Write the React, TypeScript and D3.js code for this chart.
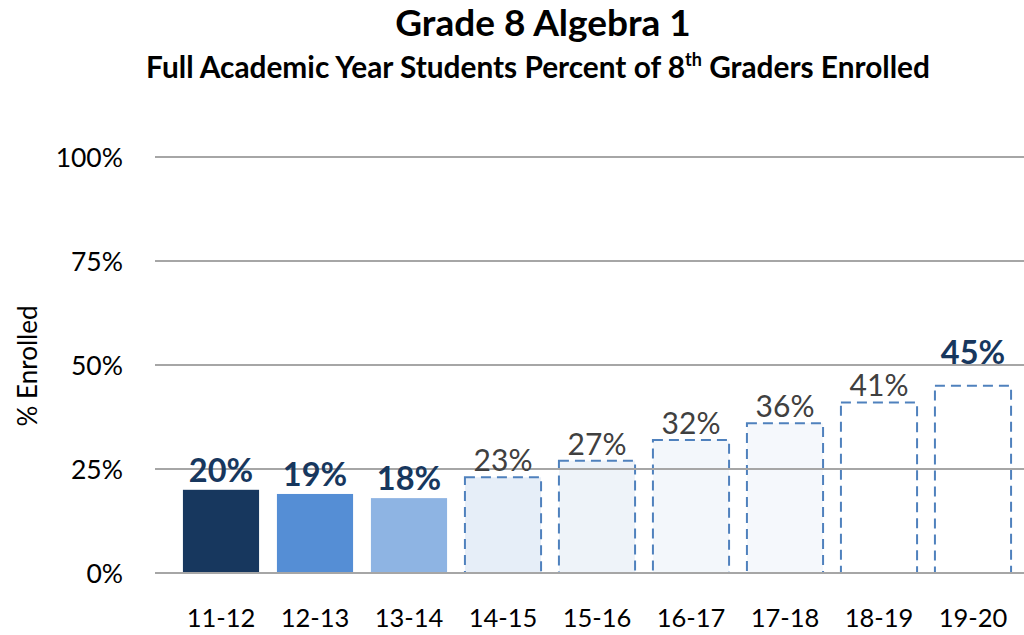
import React from 'react';
import * as d3 from 'd3';

const years = ['11-12', '12-13', '13-14', '14-15', '15-16', '16-17', '17-18', '18-19', '19-20'];
const enrolled = [20, 19, 18, 23, 27, 32, 36, 41, 45];
// actual results vs. projected targets
const actual = [true, true, true, false, false, false, false, false, false];
const highlighted = [true, true, true, false, false, false, false, false, true];
const yTicks = [0, 25, 50, 75, 100];

const barFills = ['#17375e', '#558ed5', '#8eb4e3', '#e6eef8', '#eef3f9', '#f3f7fb', '#f5f8fc', '#ffffff', '#ffffff'];

const W = 1024, H = 635;
const FONT = 'Lato, "Open Sans", sans-serif';

const App = () => {
  const x = d3.scaleBand<string>().domain(years).range([174, 1020]).paddingInner(0.19).paddingOuter(0.095);
  const y = d3.scaleLinear().domain([0, 100]).range([573, 157]);

  return (
    <svg width={W} height={H} style={{ position: 'absolute', left: 0, top: 0, background: '#fff' }} fontFamily={FONT}>
      <text x={543} y={36} textAnchor="middle" fontSize={37} fontWeight={700} fill="#000">Grade 8 Algebra 1</text>
      <text x={538} y={78} textAnchor="middle" fontSize={29.8} fontWeight={700} fill="#000">
        Full Academic Year Students Percent of 8
        <tspan fontSize={18} dy={-12}>th</tspan>
        <tspan dy={12}> Graders Enrolled</tspan>
      </text>

      {years.map((yr, i) => {
        const bx = x(yr)!;
        const top = y(enrolled[i]);
        return (
          <rect key={yr} x={bx} y={top} width={x.bandwidth()} height={y(0) - top}
            fill={barFills[i]}
            stroke={actual[i] ? 'none' : '#4f81bd'}
            strokeWidth={2}
            strokeDasharray={actual[i] ? undefined : '10 6'} />
        );
      })}

      {yTicks.map(t => (
        <g key={t}>
          <line x1={155} x2={1024} y1={y(t)} y2={y(t)} stroke="#a6a6a6" strokeWidth={2} />
          <text x={123} y={y(t) + 10} textAnchor="end" fontSize={26.5} fill="#000">{t}%</text>
        </g>
      ))}

      {years.map((yr, i) => (
        <text key={yr} x={x(yr)! + x.bandwidth() / 2}
          y={y(enrolled[i]) - (highlighted[i] && !actual[i] ? 22 : actual[i] ? 8 : 6)}
          textAnchor="middle"
          fontSize={highlighted[i] ? 32.5 : 30}
          fontWeight={highlighted[i] ? 700 : 400}
          fill={highlighted[i] ? '#17375e' : '#404040'}>
          {enrolled[i]}%
        </text>
      ))}

      {years.map(yr => (
        <text key={yr} x={x(yr)! + x.bandwidth() / 2} y={627} textAnchor="middle" fontSize={25.5} fill="#000">{yr}</text>
      ))}

      <text transform={`translate(37, 366) rotate(-90)`} textAnchor="middle" fontSize={26} fill="#000">% Enrolled</text>
    </svg>
  );
};

export default App;
